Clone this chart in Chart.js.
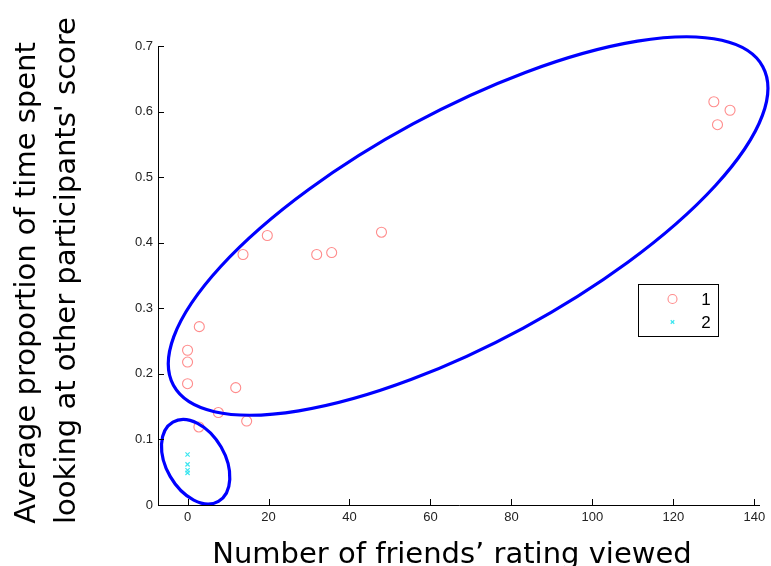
<!DOCTYPE html>
<html>
<head>
<meta charset="utf-8">
<script src="https://cdn.jsdelivr.net/npm/chart.js@4.4.0/dist/chart.umd.min.js"></script>
<style>
  html, body { margin: 0; padding: 0; background: #ffffff; }
  #wrap { width: 771px; height: 566px; }
</style>
</head>
<body>
<div id="wrap"><canvas id="c" width="771" height="566"></canvas></div>
<script>
// ---- data ----
const series1Label = '1';
const series1X = [13.7, 19.7, 31.9, 35.6, 47.9, 130.0, 134.0, 130.9, 2.9, 0, 0, 0, 11.9, 7.6, 14.6, 2.8];
const series1Y = [0.382, 0.411, 0.382, 0.385, 0.416, 0.615, 0.602, 0.580, 0.272, 0.236, 0.218, 0.185, 0.179, 0.141, 0.128, 0.119];
const series2Label = '2';
const series2X = [0, 0, 0, 0];
const series2Y = [0.077, 0.062, 0.053, 0.049];
const xTicks = [0, 20, 40, 60, 80, 100, 120, 140];
const yTicks = [0, 0.1, 0.2, 0.3, 0.4, 0.5, 0.6, 0.7];
const xTitle = 'Number of friends\u2019 rating viewed';
const yTitle = ['Average proportion of time spent', 'looking at other participants\' score'];
// ellipses: centre in data units
const ellipseCentersX = [69.3, 2.0];
const ellipseCentersY = [0.4255, 0.066];

const toPoints = (xs, ys) => xs.map((x, i) => ({ x: x, y: ys[i] }));

const ellipseStyle = [
  { rx: 335, ry: 116, rot: -28.4 },
  { rx: 45.7, ry: 29.4, rot: 60.1 }
];

const ellipsePlugin = {
  id: 'ellipses',
  afterDatasetsDraw(chart) {
    const { ctx, scales: { x, y } } = chart;
    ctx.save();
    ctx.strokeStyle = '#0000ff';
    ctx.lineWidth = 3.2;
    ellipseCentersX.forEach((cx, i) => {
      const px = x.getPixelForValue(cx);
      const py = y.getPixelForValue(ellipseCentersY[i]);
      const s = ellipseStyle[i];
      ctx.beginPath();
      ctx.ellipse(px, py, s.rx, s.ry, s.rot * Math.PI / 180, 0, Math.PI * 2);
      ctx.stroke();
    });
    ctx.restore();
  }
};

const inwardTicks = {
  id: 'inwardTicks',
  afterDraw(chart) {
    const { ctx, scales: { x, y }, chartArea } = chart;
    ctx.save();
    ctx.strokeStyle = '#000000';
    ctx.lineWidth = 1;
    ctx.beginPath();
    ctx.moveTo(chartArea.left + 0.5, chartArea.top);
    ctx.lineTo(chartArea.left + 0.5, chartArea.bottom + 0.5);
    ctx.lineTo(chartArea.right, chartArea.bottom + 0.5);
    xTicks.forEach(v => {
      const px = Math.round(x.getPixelForValue(v)) + 0.5;
      ctx.moveTo(px, chartArea.bottom);
      ctx.lineTo(px, chartArea.bottom - 6);
    });
    yTicks.forEach(v => {
      const py = Math.round(y.getPixelForValue(v)) + 0.5;
      ctx.moveTo(chartArea.left, py);
      ctx.lineTo(chartArea.left + 6, py);
    });
    ctx.stroke();
    ctx.restore();
  }
};

const axisTitles = {
  id: 'axisTitles',
  afterDraw(chart) {
    const { ctx } = chart;
    ctx.save();
    ctx.fillStyle = '#000000';
    ctx.font = '29px "DejaVu Sans", Verdana, sans-serif';
    ctx.textAlign = 'center';
    ctx.textBaseline = 'alphabetic';
    ctx.fillText(xTitle, 452, 563);
    const lineX = [27, 67];
    const lineY = [283, 270.5];
    ctx.textBaseline = 'middle';
    yTitle.forEach((t, i) => {
      ctx.save();
      ctx.translate(lineX[i], lineY[i]);
      ctx.rotate(-Math.PI / 2);
      ctx.fillText(t, 0, 0);
      ctx.restore();
    });
    ctx.restore();
  }
};

const legendBox = {
  id: 'legendBox',
  afterDraw(chart) {
    const { ctx } = chart;
    const bx = 638.5, by = 284.5, bw = 80, bh = 52;
    ctx.save();
    ctx.fillStyle = '#ffffff';
    ctx.fillRect(bx, by, bw, bh);
    ctx.strokeStyle = '#000000';
    ctx.lineWidth = 1;
    ctx.strokeRect(bx, by, bw, bh);
    ctx.font = '17px "Liberation Sans", Arial, sans-serif';
    ctx.textBaseline = 'middle';
    ctx.textAlign = 'center';
    chart.data.datasets.forEach((ds, i) => {
      const cy = by + 14.5 + i * 23;
      ctx.strokeStyle = ds.borderColor;
      ctx.fillStyle = 'rgba(0,0,0,0)';
      ctx.lineWidth = ds.borderWidth;
      Chart.helpers.drawPoint(ctx, { pointStyle: ds.pointStyle, radius: i === 0 ? 4.5 : 2.5, rotation: 0, borderWidth: ds.borderWidth }, 672.5, cy);
      ctx.fillStyle = '#000000';
      ctx.fillText(ds.label, 706, cy + 1);
    });
    ctx.restore();
  }
};

new Chart(document.getElementById('c'), {
  type: 'scatter',
  data: {
    datasets: [
      {
        label: series1Label,
        data: toPoints(series1X, series1Y),
        pointStyle: 'circle',
        pointRadius: 5,
        borderColor: 'rgb(255,140,140)',
        backgroundColor: 'rgba(0,0,0,0)',
        borderWidth: 1.1
      },
      {
        label: series2Label,
        data: toPoints(series2X, series2Y),
        pointStyle: 'crossRot',
        pointRadius: 3,
        borderColor: 'rgb(60,230,240)',
        backgroundColor: 'rgb(60,230,240)',
        borderWidth: 1.2
      }
    ]
  },
  options: {
    responsive: false,
    animation: false,
    events: [],
    layout: { padding: { left: 0, top: 46, right: 11, bottom: 0 } },
    plugins: { legend: { display: false }, tooltip: { enabled: false } },
    scales: {
      x: {
        type: 'linear',
        min: -7.3,
        max: 141.4,
        afterBuildTicks: s => { s.ticks = xTicks.map(v => ({ value: v })); },
        afterFit: s => { s.height = 61; },
        grid: { display: true, drawOnChartArea: false, drawTicks: false },
        border: { display: false },
        ticks: { color: '#222222', padding: 5, font: { family: '"Liberation Sans", Arial, sans-serif', size: 13 }, maxRotation: 0, autoSkip: false },
        title: { display: false }
      },
      y: {
        type: 'linear',
        min: 0,
        max: 0.7,
        afterBuildTicks: s => { s.ticks = yTicks.map(v => ({ value: v })); },
        afterFit: s => { s.width = 158; },
        grid: { display: true, drawOnChartArea: false, drawTicks: false },
        border: { display: false },
        ticks: { color: '#222222', padding: 5, font: { family: '"Liberation Sans", Arial, sans-serif', size: 13 }, autoSkip: false,
          callback: v => String(Math.round(v * 10) / 10) },
        title: { display: false }
      }
    }
  },
  plugins: [ellipsePlugin, inwardTicks, axisTitles, legendBox]
});
</script>
</body>
</html>
